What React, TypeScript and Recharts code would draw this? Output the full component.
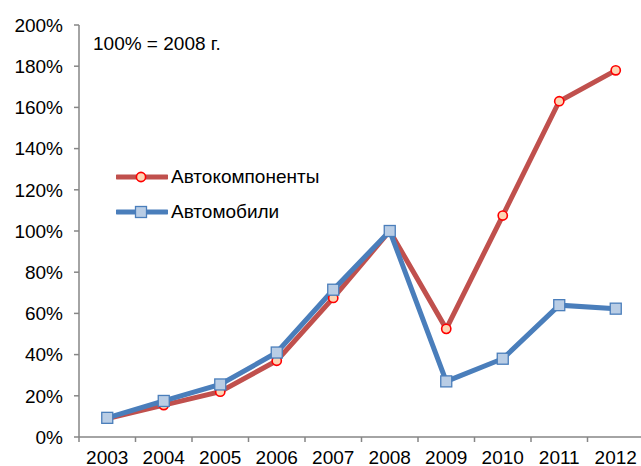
import { Line, LineChart, XAxis, YAxis, Legend } from "recharts"

const years = ["2003", "2004", "2005", "2006", "2007", "2008", "2009", "2010", "2011", "2012"]
const components = [9, 15.5, 22, 37, 67.5, 100, 52.5, 107.5, 163, 178]
const cars = [9.3, 17.5, 25.5, 41, 71.5, 100, 27, 38, 64, 62.3]
const yTicks = [0, 20, 40, 60, 80, 100, 120, 140, 160, 180, 200]

const data = years.map((year, i) => ({ x: i + 0.5, year, components: components[i], cars: cars[i] }))

const RED = "#C0504D"
const BLUE = "#4A7EBB"
const AXIS = "#868686"
const FONT = "'Liberation Sans', Arial, sans-serif"

const xTicks: number[] = []
for (let i = 0; i <= years.length * 2; i++) xTicks.push(i / 2)

function XTick(props: any) {
  const { x, y, payload } = props
  const v = payload.value as number
  if (Number.isInteger(v)) {
    return <line x1={x} x2={x} y1={y} y2={y + 5} stroke={AXIS} strokeWidth={1.5} />
  }
  return (
    <text x={x} y={y + 27} textAnchor="middle" fill="#000" fontSize={19} fontFamily={FONT}>
      {years[Math.floor(v)]}
    </text>
  )
}

function CircleDot(props: any) {
  const { cx, cy } = props
  return <circle cx={cx} cy={cy} r={4.6} fill="#FCD5B5" stroke="#FF0000" strokeWidth={1.6} />
}

function SquareDot(props: any) {
  const { cx, cy } = props
  return <rect x={cx - 5.5} y={cy - 5.5} width={11} height={11} fill="#B9CDE5" stroke={BLUE} strokeWidth={1.3} />
}

function LegendBox() {
  const rows = [
    { name: "Автокомпоненты", color: RED, dot: <circle cx={25} cy={10} r={4.6} fill="#FCD5B5" stroke="#FF0000" strokeWidth={1.6} /> },
    { name: "Автомобили", color: BLUE, dot: <rect x={19.5} y={4.5} width={11} height={11} fill="#B9CDE5" stroke={BLUE} strokeWidth={1.3} /> },
  ]
  return (
    <div style={{ fontFamily: FONT, fontSize: 19, color: "#000" }}>
      {rows.map((r) => (
        <div key={r.name} style={{ display: "flex", alignItems: "center", height: 34.5 }}>
          <svg width={52} height={20} style={{ marginRight: 3 }}>
            <line x1={1} x2={51} y1={10} y2={10} stroke={r.color} strokeWidth={5} strokeLinecap="round" />
            {r.dot}
          </svg>
          <span>{r.name}</span>
        </div>
      ))}
    </div>
  )
}

export default function App() {
  return (
    <div style={{ position: "absolute", left: 0, top: 0, width: 641, height: 466, overflow: "hidden", background: "#fff" }}>
      <LineChart width={645} height={466} data={data} margin={{ top: 25, right: 1, bottom: 0, left: 0 }}>
        <XAxis
          dataKey="x"
          type="number"
          domain={[0, years.length]}
          ticks={xTicks}
          interval={0}
          tick={<XTick />}
          tickLine={false}
          tickSize={0}
          tickMargin={0}
          height={29}
          stroke={AXIS}
          strokeWidth={1.5}
        />
        <YAxis
          type="number"
          domain={[0, 200]}
          ticks={yTicks}
          interval={0}
          width={79}
          tickFormatter={(v) => `${v}%`}
          tick={{ fill: "#000", fontSize: 19, fontFamily: FONT }}
          tickSize={5}
          tickMargin={11}
          stroke={AXIS}
          strokeWidth={1.5}
        />
        <Legend
          layout="vertical"
          verticalAlign="middle"
          align="center"
          content={<LegendBox />}
          wrapperStyle={{ left: 116, top: 160, width: 260 }}
        />
        <Line
          dataKey="components"
          name="Автокомпоненты"
          stroke={RED}
          strokeWidth={5}
          dot={<CircleDot />}
          activeDot={false}
          isAnimationActive={false}
        />
        <Line
          dataKey="cars"
          name="Автомобили"
          stroke={BLUE}
          strokeWidth={5}
          dot={<SquareDot />}
          activeDot={false}
          isAnimationActive={false}
        />
      </LineChart>
      <div style={{ position: "absolute", left: 93, top: 33, fontFamily: FONT, fontSize: 19, color: "#000" }}>
        100% = 2008 г.
      </div>
    </div>
  )
}
